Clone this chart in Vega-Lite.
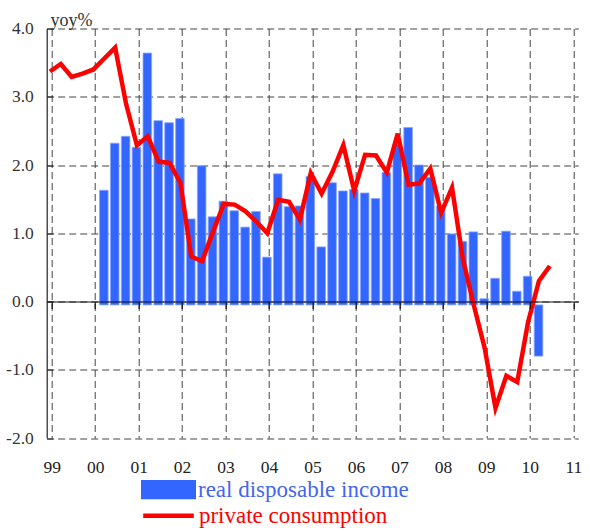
{
  "$schema": "https://vega.github.io/schema/vega-lite/v6.json",
  "width": 531.6,
  "height": 409.5,
  "autosize": "none",
  "padding": {"left": 46.7, "top": 28.5, "right": 11.7, "bottom": 94},
  "background": "white",
  "config": {"view": {"stroke": null}, "font": "Times New Roman"},
  "datasets": {
    "income": [
      {"t": 2000.2, "v": 1.63, "series": "real disposable income"},
      {"t": 2000.45, "v": 2.32, "series": "real disposable income"},
      {"t": 2000.7, "v": 2.42, "series": "real disposable income"},
      {"t": 2000.95, "v": 2.26, "series": "real disposable income"},
      {"t": 2001.2, "v": 3.64, "series": "real disposable income"},
      {"t": 2001.45, "v": 2.65, "series": "real disposable income"},
      {"t": 2001.7, "v": 2.62, "series": "real disposable income"},
      {"t": 2001.95, "v": 2.68, "series": "real disposable income"},
      {"t": 2002.2, "v": 1.21, "series": "real disposable income"},
      {"t": 2002.45, "v": 1.99, "series": "real disposable income"},
      {"t": 2002.7, "v": 1.24, "series": "real disposable income"},
      {"t": 2002.95, "v": 1.47, "series": "real disposable income"},
      {"t": 2003.2, "v": 1.33, "series": "real disposable income"},
      {"t": 2003.45, "v": 1.09, "series": "real disposable income"},
      {"t": 2003.7, "v": 1.32, "series": "real disposable income"},
      {"t": 2003.95, "v": 0.65, "series": "real disposable income"},
      {"t": 2004.2, "v": 1.87, "series": "real disposable income"},
      {"t": 2004.45, "v": 1.39, "series": "real disposable income"},
      {"t": 2004.7, "v": 1.40, "series": "real disposable income"},
      {"t": 2004.95, "v": 1.83, "series": "real disposable income"},
      {"t": 2005.2, "v": 0.80, "series": "real disposable income"},
      {"t": 2005.45, "v": 1.74, "series": "real disposable income"},
      {"t": 2005.7, "v": 1.62, "series": "real disposable income"},
      {"t": 2005.95, "v": 1.64, "series": "real disposable income"},
      {"t": 2006.2, "v": 1.59, "series": "real disposable income"},
      {"t": 2006.45, "v": 1.51, "series": "real disposable income"},
      {"t": 2006.7, "v": 1.89, "series": "real disposable income"},
      {"t": 2006.95, "v": 2.30, "series": "real disposable income"},
      {"t": 2007.2, "v": 2.55, "series": "real disposable income"},
      {"t": 2007.45, "v": 2.00, "series": "real disposable income"},
      {"t": 2007.7, "v": 1.82, "series": "real disposable income"},
      {"t": 2007.95, "v": 1.40, "series": "real disposable income"},
      {"t": 2008.2, "v": 0.99, "series": "real disposable income"},
      {"t": 2008.45, "v": 0.88, "series": "real disposable income"},
      {"t": 2008.7, "v": 1.02, "series": "real disposable income"},
      {"t": 2008.95, "v": 0.04, "series": "real disposable income"},
      {"t": 2009.2, "v": 0.34, "series": "real disposable income"},
      {"t": 2009.45, "v": 1.03, "series": "real disposable income"},
      {"t": 2009.7, "v": 0.15, "series": "real disposable income"},
      {"t": 2009.95, "v": 0.37, "series": "real disposable income"},
      {"t": 2010.2, "v": -0.80, "series": "real disposable income"}
    ],
    "consumption": [
      {"t": 1998.96, "v": 3.37, "series": "private consumption"},
      {"t": 1999.21, "v": 3.48, "series": "private consumption"},
      {"t": 1999.46, "v": 3.29, "series": "private consumption"},
      {"t": 1999.71, "v": 3.34, "series": "private consumption"},
      {"t": 1999.96, "v": 3.40, "series": "private consumption"},
      {"t": 2000.21, "v": 3.56, "series": "private consumption"},
      {"t": 2000.46, "v": 3.72, "series": "private consumption"},
      {"t": 2000.71, "v": 2.90, "series": "private consumption"},
      {"t": 2000.96, "v": 2.29, "series": "private consumption"},
      {"t": 2001.21, "v": 2.42, "series": "private consumption"},
      {"t": 2001.46, "v": 2.05, "series": "private consumption"},
      {"t": 2001.71, "v": 2.03, "series": "private consumption"},
      {"t": 2001.96, "v": 1.74, "series": "private consumption"},
      {"t": 2002.21, "v": 0.66, "series": "private consumption"},
      {"t": 2002.46, "v": 0.59, "series": "private consumption"},
      {"t": 2002.71, "v": 1.02, "series": "private consumption"},
      {"t": 2002.96, "v": 1.43, "series": "private consumption"},
      {"t": 2003.21, "v": 1.42, "series": "private consumption"},
      {"t": 2003.46, "v": 1.32, "series": "private consumption"},
      {"t": 2003.71, "v": 1.17, "series": "private consumption"},
      {"t": 2003.96, "v": 1.00, "series": "private consumption"},
      {"t": 2004.21, "v": 1.49, "series": "private consumption"},
      {"t": 2004.46, "v": 1.46, "series": "private consumption"},
      {"t": 2004.71, "v": 1.20, "series": "private consumption"},
      {"t": 2004.96, "v": 1.88, "series": "private consumption"},
      {"t": 2005.21, "v": 1.58, "series": "private consumption"},
      {"t": 2005.46, "v": 1.90, "series": "private consumption"},
      {"t": 2005.71, "v": 2.29, "series": "private consumption"},
      {"t": 2005.96, "v": 1.62, "series": "private consumption"},
      {"t": 2006.21, "v": 2.15, "series": "private consumption"},
      {"t": 2006.46, "v": 2.14, "series": "private consumption"},
      {"t": 2006.71, "v": 1.89, "series": "private consumption"},
      {"t": 2006.96, "v": 2.46, "series": "private consumption"},
      {"t": 2007.21, "v": 1.71, "series": "private consumption"},
      {"t": 2007.46, "v": 1.73, "series": "private consumption"},
      {"t": 2007.71, "v": 1.95, "series": "private consumption"},
      {"t": 2007.96, "v": 1.30, "series": "private consumption"},
      {"t": 2008.21, "v": 1.67, "series": "private consumption"},
      {"t": 2008.46, "v": 0.62, "series": "private consumption"},
      {"t": 2008.71, "v": -0.05, "series": "private consumption"},
      {"t": 2008.96, "v": -0.68, "series": "private consumption"},
      {"t": 2009.21, "v": -1.56, "series": "private consumption"},
      {"t": 2009.46, "v": -1.09, "series": "private consumption"},
      {"t": 2009.71, "v": -1.18, "series": "private consumption"},
      {"t": 2009.96, "v": -0.30, "series": "private consumption"},
      {"t": 2010.21, "v": 0.30, "series": "private consumption"},
      {"t": 2010.46, "v": 0.52, "series": "private consumption"}
    ]
  },
  "layer": [
    {
      "data": {"name": "income"},
      "mark": {"type": "bar", "width": 8.6, "stroke": "#8aa6ff", "strokeWidth": 0.8},
      "encoding": {
        "x": {
          "field": "t", "type": "quantitative",
          "scale": {"domain": [1999, 2011], "nice": false, "zero": false},
          "axis": {
            "orient": "bottom", "title": null,
            "values": [1999, 2000, 2001, 2002, 2003, 2004, 2005, 2006, 2007, 2008, 2009, 2010, 2011],
            "labelExpr": "(datum.value % 100 < 10 ? '0' : '') + (datum.value % 100)",
            "domain": false, "ticks": false,
            "grid": true, "gridDash": [7, 4], "gridColor": "#444", "gridWidth": 1, "gridOpacity": 1,
            "labelFont": "Times New Roman", "labelFontSize": 17.5, "labelColor": "#222",
            "labelPadding": 20, "labelBaseline": "top"
          }
        },
        "y": {
          "field": "v", "type": "quantitative",
          "scale": {"domain": [-2, 4], "nice": false, "zero": false},
          "axis": {
            "values": [-2, -1, 0, 1, 2, 3, 4],
            "labelExpr": "(datum.value < 0 ? '-' : '') + format(abs(datum.value), '.1f')",
            "title": "yoy%", "titleAngle": 0, "titleAlign": "left", "titleBaseline": "alphabetic",
            "titleX": 3.3, "titleY": -3.5, "titleFont": "Times New Roman", "titleFontSize": 18,
            "titleFontWeight": "normal", "titleColor": "#333",
            "domain": true, "domainColor": "#222", "domainWidth": 1.2,
            "ticks": true, "tickSize": -6, "tickColor": "#222",
            "grid": true, "gridDash": [7, 4], "gridColor": "#444", "gridWidth": 1, "gridOpacity": 1,
            "labelFont": "Times New Roman", "labelFontSize": 17.5, "labelColor": "#333",
            "labelPadding": 19.4
          }
        },
        "y2": {"datum": -0.05},
        "fill": {
          "field": "series", "type": "nominal",
          "scale": {"range": ["#3366FF"]},
          "legend": {
            "orient": "none", "legendX": 94.3, "legendY": 433.7, "title": null, "padding": 0,
            "symbolType": "M-1,-0.35L1,-0.35L1,0.35L-1,0.35Z", "symbolSize": 3025,
            "symbolStrokeWidth": 0, "symbolOpacity": 1,
            "labelFont": "Times New Roman", "labelFontSize": 23, "labelColor": "#4466EE",
            "labelLimit": 400, "labelOffset": 2
          }
        }
      }
    },
    {
      "data": {"name": "consumption"},
      "mark": {"type": "line", "strokeWidth": 4.5, "clip": true},
      "encoding": {
        "x": {
          "field": "t", "type": "quantitative",
          "axis": {
            "orient": "bottom", "offset": -136.5, "title": null, "labels": false,
            "values": [1999, 2000, 2001, 2002, 2003, 2004, 2005, 2006, 2007, 2008, 2009, 2010, 2011],
            "grid": false, "domain": true, "domainColor": "#111", "domainWidth": 1.2,
            "ticks": true, "tickSize": 7, "tickColor": "#111", "tickWidth": 1.2, "zindex": 1
          }
        },
        "y": {"field": "v", "type": "quantitative"},
        "stroke": {
          "field": "series", "type": "nominal",
          "scale": {"range": ["#FF0000"]},
          "legend": {
            "orient": "none", "legendX": 93.8, "legendY": 459.2, "title": null, "padding": 0,
            "symbolType": "stroke", "symbolSize": 2560, "symbolStrokeWidth": 4.5,
            "labelFont": "Times New Roman", "labelFontSize": 23, "labelColor": "#FF0000",
            "labelLimit": 400, "labelOffset": 2.4
          }
        }
      }
    }
  ],
  "resolve": {"axis": {"x": "independent"}}
}
